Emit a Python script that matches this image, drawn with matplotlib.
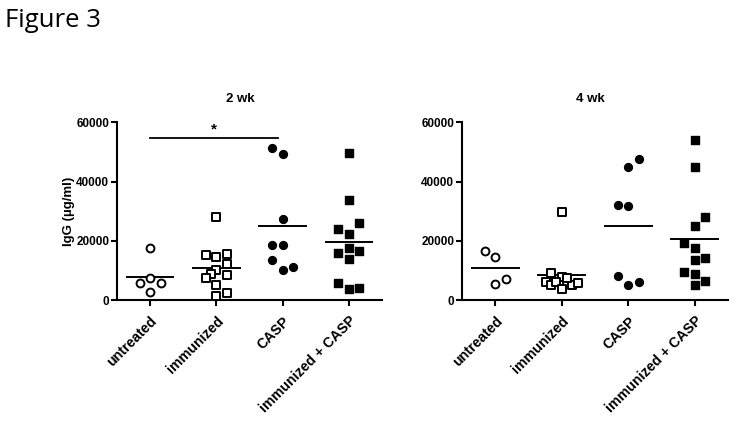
import matplotlib
matplotlib.use("Agg")
import matplotlib.pyplot as plt
import matplotlib.transforms as mtransforms
import numpy as np

categories = ["untreated", "immunized", "CASP", "immunized + CASP"]

# 2 wk
wk2_untreated = [17700, 7300, 5800, 5800, 2800]
wk2_immunized = [28200, 15200, 14400, 15700, 12200, 10100, 8800, 7300, 8400, 5100, 1350, 2500]
wk2_casp = [51300, 49200, 27300, 18700, 18700, 13500, 10100, 11000]
wk2_imm_casp = [49600, 33800, 26100, 24000, 22200, 16000, 17700, 16700, 13700, 5900, 3600, 4100]

# 4 wk
wk4_untreated = [16700, 14400, 5400, 7000]
wk4_immunized = [29800, 9200, 6100, 5200, 7900, 6200, 6800, 6200, 3700, 5100, 5800, 7600]
wk4_casp = [47700, 45100, 32100, 31800, 8100, 5100, 6200]
wk4_imm_casp = [54000, 45100, 28000, 25100, 19200, 17700, 13600, 14100, 9400, 8800, 5100, 6300]

# horizontal jitter (category units) used for display
wk2_jit = [
    [0, 0, -0.5, 0.5, 0],
    [0, -0.5, 0, 0.5, 0.5, 0, -0.25, -0.5, 0.5, 0, 0, 0.5],
    [-0.5, 0, 0, -0.5, 0, -0.5, 0, 0.5],
    [0, 0, 0.5, -0.5, 0, -0.5, 0, 0.5, 0, -0.5, 0, 0.5],
]
wk4_jit = [
    [-0.5, 0, 0, 0.5],
    [0, -0.5, -0.75, -0.5, 0, -0.25, 0.25, 0.25, 0, 0.5, 0.75, 0.25],
    [0.5, 0, -0.5, 0, -0.5, 0, 0.5],
    [0, 0, 0.5, 0, -0.5, 0, 0, 0.5, -0.5, 0, 0, 0.5],
]
JIT = 0.32

sig_value = 54800

plt.rcParams['font.family'] = ['Liberation Sans', 'DejaVu Sans']
plt.rcParams['font.weight'] = 'bold'

fig = plt.figure(figsize=(7.36, 4.23), dpi=100)

W, H = 736.0, 423.0
def ax_rect(x0, x1, y_top, y_bot):
    return [x0 / W, 1 - y_bot / H, (x1 - x0) / W, (y_bot - y_top) / H]

styles = [
    dict(marker='o', fc='white', ec='black', s=32, lw=1.4),
    dict(marker='s', fc='white', ec='black', s=28, lw=1.4),
    dict(marker='o', fc='black', ec='black', s=32, lw=1.0),
    dict(marker='s', fc='black', ec='black', s=28, lw=1.0),
]

def draw(ax, groups, jits, title, title_x):
    for i, (vals, jit, st) in enumerate(zip(groups, jits, styles)):
        xs = [i + j * JIT for j in jit]
        ax.scatter(xs, vals, marker=st['marker'], facecolors=st['fc'],
                   edgecolors=st['ec'], s=st['s'], linewidths=st['lw'], zorder=3,
                   clip_on=False)
        m = np.mean(vals)
        ax.plot([i - 0.35, i + 0.35], [m, m], color='black', lw=1.4, zorder=2)
    ax.set_xlim(-0.5, 3.5)
    ax.set_ylim(0, 60000)
    ax.set_yticks([0, 20000, 40000, 60000])
    ax.set_yticklabels(['0', '20000', '40000', '60000'], fontsize=8.5, fontweight='bold')
    ax.set_xticks(range(len(categories)))
    ax.set_xticklabels(categories, rotation=45, ha='right', va='top',
                       rotation_mode='anchor', fontsize=10.2, fontweight='bold')
    off = mtransforms.ScaledTranslation(4 / 100, 0, fig.dpi_scale_trans)
    for lab in ax.get_xticklabels():
        lab.set_transform(lab.get_transform() + off)
    for s in ['top', 'right']:
        ax.spines[s].set_visible(False)
    for s in ['left', 'bottom']:
        ax.spines[s].set_linewidth(1.5)
    ax.tick_params(axis='y', direction='out', length=4, width=1.5, pad=1.5)
    ax.tick_params(axis='x', direction='out', length=4, width=1.5, pad=6)
    t = ax.set_title(title, fontsize=9.5, fontweight='bold', pad=15)
    t.set_x(title_x)

ax1 = fig.add_axes(ax_rect(117, 382, 122.5, 300))
draw(ax1, [wk2_untreated, wk2_immunized, wk2_casp, wk2_imm_casp], wk2_jit, "2 wk", 0.465)
ax1.set_ylabel("IgG (µg/ml)", fontsize=9.5, fontweight='bold', labelpad=1)
ax1.plot([0, 1.93], [sig_value, sig_value], color='black', lw=1.3, clip_on=False)
ax1.text(0.96, sig_value + 600, "*", ha='center', va='bottom', fontsize=11, fontweight='bold')

ax2 = fig.add_axes(ax_rect(462, 728, 122.5, 300))
draw(ax2, [wk4_untreated, wk4_immunized, wk4_casp, wk4_imm_casp], wk4_jit, "4 wk", 0.482)

fig.text(5 / W, 1 - 27 / H, "Figure 3", fontsize=18.5, fontweight='normal',
         family=['Open Sans', 'DejaVu Sans'], va='baseline', ha='left')

fig.savefig("out.png", dpi=100, facecolor='white')
